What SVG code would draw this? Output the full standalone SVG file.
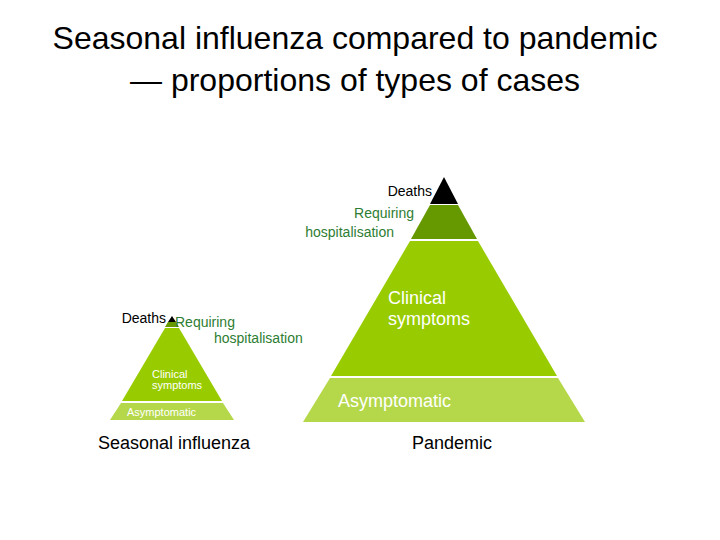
<svg xmlns="http://www.w3.org/2000/svg" width="720" height="540" viewBox="0 0 720 540">
<style>
text{font-family:"Liberation Sans",Arial,sans-serif}
.t{font-size:32px;fill:#000}
.k{fill:#000}
.g{fill:#2e7d32}
.w{fill:#fff}
.d{fill:#000}.h{fill:#669900}.c{fill:#99cc00}.a{fill:#b5d84a}
</style>
<rect width="720" height="540" fill="#fff"/>
<text class="t" x="355" y="49" text-anchor="middle">Seasonal influenza compared to pandemic</text>
<text class="t" x="355" y="91" text-anchor="middle">— proportions of types of cases</text>
<g id="pandemic">
<polygon class="d" points="444,177 430,204 458,204"/>
<polygon class="h" points="430,205 458,205 477,239 411,239"/>
<polygon class="c" points="410,241 478,241 557,376 331,376"/>
<polygon class="a" points="330,378 558,378 585,422 303,422"/>
<text class="k" x="432" y="196" font-size="14" text-anchor="end">Deaths</text>
<text class="g" x="414" y="218" font-size="14" text-anchor="end">Requiring</text>
<text class="g" x="394" y="237" font-size="14" text-anchor="end">hospitalisation</text>
<text class="w" x="388" y="304" font-size="18">Clinical</text>
<text class="w" x="388" y="325" font-size="18">symptoms</text>
<text class="w" x="338" y="407" font-size="18">Asymptomatic</text>
<text class="k" x="452" y="449" font-size="18" text-anchor="middle">Pandemic</text>
</g>
<g id="seasonal">
<polygon class="d" points="172,316 168,322 176,322"/>
<polygon class="h" points="168,322 176,322 179,327 165,327"/>
<polygon class="c" points="165,328 179,328 222,401 122,401"/>
<polygon class="a" points="121,403 223,403 234,420 110,420"/>
<text class="k" x="166" y="323" font-size="14" text-anchor="end">Deaths</text>
<text class="g" x="175" y="327" font-size="14">Requiring</text>
<text class="g" x="214" y="343" font-size="14">hospitalisation</text>
<text class="w" x="152" y="378" font-size="11">Clinical</text>
<text class="w" x="152" y="389" font-size="11">symptoms</text>
<text class="w" x="127" y="416" font-size="11">Asymptomatic</text>
<text class="k" x="174" y="449" font-size="18" text-anchor="middle">Seasonal influenza</text>
</g>
</svg>
